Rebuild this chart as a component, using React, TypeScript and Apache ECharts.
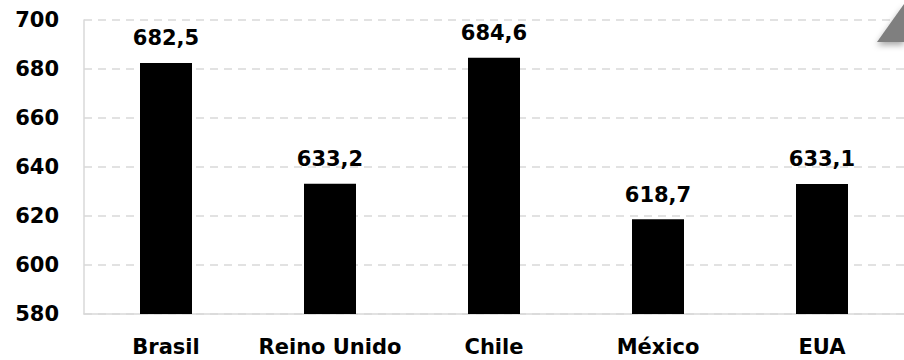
import React, { useEffect, useRef } from "react";
import * as echarts from "echarts";

const categories = ["Brasil", "Reino Unido", "Chile", "México", "EUA"];
const values = [682.5, 633.2, 684.6, 618.7, 633.1];
const yMin = 580;
const yMax = 700;
const yStep = 20;

const FONT = "DejaVu Sans";

export default function App() {
  const ref = useRef<HTMLDivElement>(null);
  useEffect(() => {
    if (!ref.current) return;
    const chart = echarts.init(ref.current, undefined, { renderer: "svg" });
    chart.setOption({
      animation: false,
      backgroundColor: "#ffffff",
      grid: { left: 84, right: -6, top: 20, bottom: 46, containLabel: false },
      xAxis: {
        type: "category",
        data: categories,
        axisLine: { show: true, lineStyle: { color: "#d9d9d9", width: 1.5 } },
        axisTick: { show: false },
        axisLabel: {
          interval: 0,
          hideOverlap: false,
          color: "#000",
          fontFamily: FONT,
          fontWeight: "bold",
          fontSize: 21,
          margin: 22,
        },
      },
      yAxis: {
        type: "value",
        min: yMin,
        max: yMax,
        interval: yStep,
        axisLine: { show: true, lineStyle: { color: "#d9d9d9", width: 1.5 } },
        axisTick: { show: false },
        splitLine: { show: true, lineStyle: { color: "#d9d9d9", type: [8, 6], width: 1.5 } },
        axisLabel: {
          color: "#000",
          fontFamily: FONT,
          fontWeight: "bold",
          fontSize: 21,
          margin: 25,
        },
      },
      series: [
        {
          type: "bar",
          data: values,
          barWidth: 52,
          itemStyle: { color: "#000" },
          label: {
            show: true,
            position: "top",
            distance: 14,
            color: "#000",
            fontFamily: FONT,
            fontWeight: "bold",
            fontSize: 21,
            formatter: (p: any) => String(p.value.toFixed(1)).replace(".", ","),
          },
        },
      ],
      graphic: [
        {
          type: "polygon",
          shape: { points: [[877, 42], [904, 42], [904, 4]] },
          style: {
            fill: "#7f7f7f",
            shadowBlur: 6,
            shadowOffsetY: 3,
            shadowColor: "rgba(0,0,0,0.35)",
          },
          z: 100,
        },
      ],
    });
    return () => chart.dispose();
  }, []);
  return (
    <div
      ref={ref}
      style={{ position: "fixed", left: 0, top: 0, width: 904, height: 360, overflow: "hidden" }}
    />
  );
}
